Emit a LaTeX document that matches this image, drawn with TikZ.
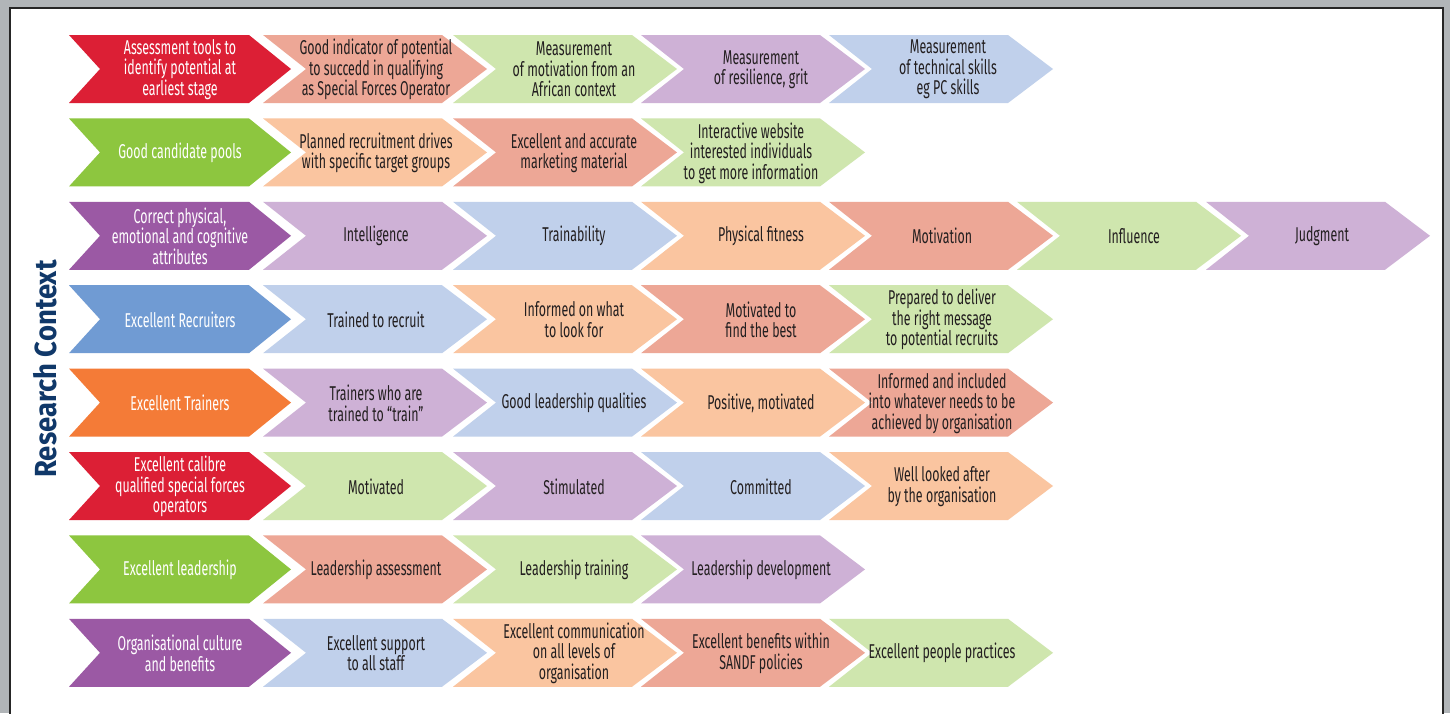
\documentclass[tikz,border=0pt]{standalone}
\usepackage{fontspec}
\setmainfont{Fira Sans}[FakeStretch=0.62]
\newfontfamily\titlefont{Fira Sans}[FakeStretch=0.9]
\definecolor{cred}{RGB}{220,31,53}
\definecolor{csalmon}{RGB}{237,167,150}
\definecolor{clgreen}{RGB}{207,230,174}
\definecolor{clilac}{RGB}{206,177,214}
\definecolor{clblue}{RGB}{192,208,235}
\definecolor{cpeach}{RGB}{250,197,160}
\definecolor{cgreen}{RGB}{141,198,63}
\definecolor{cpurple}{RGB}{155,89,164}
\definecolor{cblue}{RGB}{112,155,211}
\definecolor{corange}{RGB}{244,123,55}
\definecolor{cframe}{RGB}{177,181,184}
\definecolor{cnavy}{RGB}{16,56,105}
\definecolor{ctext}{RGB}{35,31,32}
\tikzset{
  chevtext/.style={align=center, text=ctext, inner sep=0pt, font=\fontsize{20}{20.5}\selectfont},
  headtext/.style={align=center, text=white, inner sep=0pt, font=\fontsize{20}{20.5}\selectfont},
}
% #1 name, #2 x0, #3 top, #4 colour, #5 text
\newcommand\myhead[5]{%
  \fill[#4] (#2,#3) -- ++(180,0) -- ++(42,34) -- ++(-42,34) -- ++(-180,0) -- ++(31,-34) -- cycle;
  \node[headtext] (#1) at (180,{#3+34.5}) {#5};}
% #1 name, #2 x0, #3 top, #4 colour, #5 text x, #6 text
\newcommand\mychev[6]{%
  \fill[#4] (#2,#3) -- ++(179,0) -- ++(45,34) -- ++(-45,34) -- ++(-179,0) -- ++(43,-34) -- cycle;
  \node[chevtext] (#1) at (#5,{#3+34.5}) {#6};}
\begin{document}
\begin{tikzpicture}[x=1pt,y=-1pt]
\useasboundingbox (0,0) rectangle (1450,713);
\fill[cframe] (0,0) rectangle (1450,713);
\filldraw[fill=white, draw=black!85, line width=1.2pt] (10,720) -- (10,8) -- (1443,8) -- (1443,720);
\node[rotate=90, text=cnavy, inner sep=0pt, font=\titlefont\bfseries\fontsize{30.5}{33}\selectfont] (title) at (45,369) {Research Context};
% row 1
\myhead{a1}{69}{35}{cred}{Assessment tools to\\identify potential at\\earliest stage}
\mychev{a2}{263}{35}{csalmon}{376}{Good indicator of potential\\to succedd in qualifying\\as Special Forces Operator}
\mychev{a3}{453}{35}{clgreen}{574}{Measurement\\of motivation from an\\African context}
\mychev{a4}{641}{35}{clilac}{761}{Measurement\\of resilience, grit}
\mychev{a5}{829}{35}{clblue}{948}{Measurement\\of technical skills\\eg PC skills}
% row 2
\myhead{b1}{69}{118.4}{cgreen}{Good candidate pools}
\mychev{b2}{263}{118.4}{cpeach}{376}{Planned recruitment drives\\with specific target groups}
\mychev{b3}{453}{118.4}{csalmon}{574}{Excellent and accurate\\marketing material}
\mychev{b4}{641}{118.4}{clgreen}{751}{Interactive website\\interested individuals\\to get more information}
% row 3
\myhead{c1}{69}{201.8}{cpurple}{Correct physical,\\emotional and cognitive\\attributes}
\mychev{c2}{263}{201.8}{clilac}{376}{Intelligence}
\mychev{c3}{453}{201.8}{clblue}{574}{Trainability}
\mychev{c4}{641}{201.8}{cpeach}{761}{Physical fitness}
\mychev{c5}{829}{201.8}{csalmon}{942}{Motivation}
\mychev{c6}{1017}{201.8}{clgreen}{1134}{Influence}
\mychev{c7}{1206}{201.8}{clilac}{1322}{Judgment}
% row 4
\myhead{d1}{69}{285.2}{cblue}{Excellent Recruiters}
\mychev{d2}{263}{285.2}{clblue}{376}{Trained to recruit}
\mychev{d3}{453}{285.2}{cpeach}{574}{Informed on what\\to look for}
\mychev{d4}{641}{285.2}{csalmon}{761}{Motivated to\\find the best}
\mychev{d5}{829}{285.2}{clgreen}{942}{Prepared to deliver\\the right message\\to potential recruits}
% row 5
\myhead{e1}{69}{368.6}{corange}{Excellent Trainers}
\mychev{e2}{263}{368.6}{clilac}{376}{Trainers who are\\trained to “train”}
\mychev{e3}{453}{368.6}{clblue}{574}{Good leadership qualities}
\mychev{e4}{641}{368.6}{cpeach}{761}{Positive, motivated}
\mychev{e5}{829}{368.6}{csalmon}{942}{Informed and included\\into whatever needs to be\\achieved by organisation}
% row 6
\myhead{f1}{69}{452}{cred}{Excellent calibre\\qualified special forces\\operators}
\mychev{f2}{263}{452}{clgreen}{376}{Motivated}
\mychev{f3}{453}{452}{clilac}{574}{Stimulated}
\mychev{f4}{641}{452}{clblue}{761}{Committed}
\mychev{f5}{829}{452}{cpeach}{942}{Well looked after\\by the organisation}
% row 7
\myhead{g1}{69}{535.4}{cgreen}{Excellent leadership}
\mychev{g2}{263}{535.4}{csalmon}{376}{Leadership assessment}
\mychev{g3}{453}{535.4}{clgreen}{574}{Leadership training}
\mychev{g4}{641}{535.4}{clilac}{761}{Leadership development}
% row 8
\myhead{h1}{69}{618.8}{cpurple}{Organisational culture\\and benefits}
\mychev{h2}{263}{618.8}{clblue}{376}{Excellent support\\to all staff}
\mychev{h3}{453}{618.8}{cpeach}{574}{Excellent communication\\on all levels of\\organisation}
\mychev{h4}{641}{618.8}{csalmon}{761}{Excellent benefits within\\SANDF policies}
\mychev{h5}{829}{618.8}{clgreen}{942}{Excellent people practices}
\end{tikzpicture}
\end{document}
